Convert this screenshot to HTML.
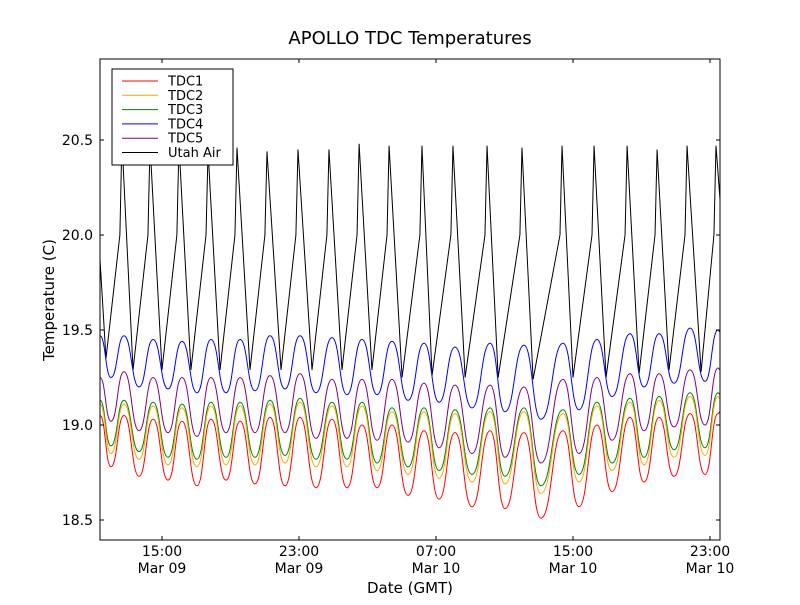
<!DOCTYPE html>
<html><head><meta charset="utf-8"><style>
body{margin:0;background:#fff;}
svg text{font-family:"DejaVu Sans","Liberation Sans",sans-serif;}
</style></head><body>
<svg id="chart" width="800" height="600" viewBox="0 0 800 600" xmlns="http://www.w3.org/2000/svg">
<rect x="0" y="0" width="800" height="600" fill="#fff"/>
<text x="410" y="44" font-size="18" text-anchor="middle">APOLLO TDC Temperatures</text>
<text x="410" y="593" font-size="15" text-anchor="middle">Date (GMT)</text>
<text transform="translate(54,300) rotate(-90)" font-size="15" text-anchor="middle">Temperature (C)</text>
<g id="plot"></g>
<g id="axes"></g>
<g id="legend"></g>
</svg>
<script>
const xTickHours=[15,23,31,39,47];
const xTickTimes=["15:00","23:00","07:00","15:00","23:00"];
const xTickDates=["Mar 09","Mar 09","Mar 10","Mar 10","Mar 10"];
const yTicks=[18.5,19.0,19.5,20.0,20.5];
const startHour=11.38, endHour=47.59;
const tdcTroughTimes=[12.02,13.66,15.35,17.04,18.74,20.43,22.18,23.99,25.80,27.56,29.37,31.18,33.10,35.03,37.13,39.35,41.28,43.15,44.90,46.71];
const tdcPeakTimes=[12.78,14.48,16.17,17.86,19.56,21.31,23.06,24.93,26.68,28.43,30.30,32.11,34.16,36.14,38.42,40.40,42.33,44.03,45.84,47.47];
const tdc1Peaks=[19.05,19.03,19.02,19.03,19.02,19.04,19.04,19.03,19.00,19.00,18.97,18.96,18.97,18.96,18.97,19.00,19.04,19.04,19.06,19.06];
const tdc1Troughs=[18.78,18.73,18.71,18.68,18.71,18.69,18.68,18.67,18.67,18.67,18.63,18.61,18.57,18.56,18.51,18.57,18.65,18.70,18.73,18.74];
const tdc1Ends=[19.05,19.07];
const tdc2Peaks=[19.11,19.10,19.09,19.10,19.10,19.11,19.12,19.10,19.10,19.07,19.07,19.06,19.07,19.07,19.06,19.10,19.12,19.13,19.15,19.15];
const tdc2Troughs=[18.85,18.82,18.79,18.78,18.79,18.79,18.80,18.78,18.78,18.76,18.74,18.72,18.70,18.69,18.64,18.70,18.76,18.79,18.83,18.84];
const tdc2Ends=[19.11,19.14];
const tdc3Peaks=[19.13,19.12,19.11,19.12,19.12,19.13,19.14,19.12,19.12,19.09,19.09,19.08,19.09,19.09,19.08,19.12,19.14,19.15,19.17,19.17];
const tdc3Troughs=[18.89,18.86,18.83,18.82,18.83,18.83,18.84,18.82,18.82,18.80,18.78,18.76,18.74,18.73,18.68,18.74,18.80,18.83,18.87,18.88];
const tdc3Ends=[19.13,19.16];
const tdc4Peaks=[19.47,19.45,19.44,19.45,19.45,19.47,19.47,19.46,19.45,19.44,19.43,19.41,19.43,19.42,19.43,19.45,19.48,19.48,19.51,19.50];
const tdc4Troughs=[19.25,19.20,19.19,19.17,19.17,19.18,19.19,19.17,19.16,19.16,19.13,19.12,19.09,19.07,19.03,19.08,19.15,19.20,19.22,19.23];
const tdc4Ends=[19.47,19.49];
const tdc5Peaks=[19.28,19.25,19.25,19.25,19.25,19.26,19.27,19.24,19.24,19.24,19.22,19.21,19.21,19.20,19.24,19.25,19.27,19.27,19.29,19.30];
const tdc5Troughs=[19.02,18.97,18.96,18.94,18.96,18.96,18.96,18.93,18.93,18.92,18.91,18.88,18.85,18.83,18.80,18.85,18.92,18.97,18.99,19.00];
const tdc5Ends=[19.25,19.29];
const airTroughTimes=[11.73,13.31,15.00,16.69,18.39,20.14,21.95,23.76,25.51,27.26,29.02,30.77,32.70,34.63,36.67,39.00,40.93,42.86,44.61,46.48];
const airPeakTimes=[12.66,14.30,15.99,17.69,19.38,21.13,22.94,24.75,26.51,28.26,30.18,31.99,33.98,36.02,38.36,40.23,42.16,43.91,45.66,47.35];
const airPeaks=[20.50,20.48,20.48,20.44,20.46,20.44,20.45,20.45,20.48,20.47,20.47,20.47,20.47,20.46,20.47,20.47,20.47,20.45,20.47,20.47];
const airTroughs=[19.35,19.29,19.29,19.29,19.29,19.29,19.29,19.29,19.29,19.29,19.25,19.26,19.25,19.25,19.24,19.25,19.25,19.27,19.29,19.28];
const airKinkValue=20.0;
const airEnds=[19.87,20.18];

const L=100,R=720,T=59,B=540;
function xS(h){return L+(h-startHour)/8*137;}
function yS(v){return 520-(v-18.5)*190;}
const NS="http://www.w3.org/2000/svg";
function mk(tag,attrs,parent){const e=document.createElementNS(NS,tag);for(const k in attrs)e.setAttribute(k,attrs[k]);parent.appendChild(e);return e;}
const plot=document.getElementById('plot'), axes=document.getElementById('axes'), legend=document.getElementById('legend');
const defs=mk('defs',{},plot);
const cp=mk('clipPath',{id:'clip'},defs);
mk('rect',{x:L,y:T,width:R-L,height:B-T},cp);

function tdcPath(peaks,troughs,ends){
  const pts=[[startHour,ends[0]]];
  for(let i=0;i<tdcTroughTimes.length;i++){pts.push([tdcTroughTimes[i],troughs[i]]);pts.push([tdcPeakTimes[i],peaks[i]]);}
  pts.push([endHour,ends[1]]);
  let d='M'+xS(pts[0][0]).toFixed(2)+','+yS(pts[0][1]).toFixed(2);
  for(let i=1;i<pts.length;i++){
    const x0=xS(pts[i-1][0]),y0=yS(pts[i-1][1]),x1=xS(pts[i][0]),y1=yS(pts[i][1]);const m=(x0+x1)/2;
    d+=' C'+m.toFixed(2)+','+y0.toFixed(2)+' '+m.toFixed(2)+','+y1.toFixed(2)+' '+x1.toFixed(2)+','+y1.toFixed(2);
  }
  return d;
}
const series=[
 {name:'TDC1',color:'#ff0000',p:tdc1Peaks,t:tdc1Troughs,e:tdc1Ends,key:'tdc1-line'},
 {name:'TDC2',color:'#ffa500',p:tdc2Peaks,t:tdc2Troughs,e:tdc2Ends,key:'tdc2-line'},
 {name:'TDC3',color:'#008000',p:tdc3Peaks,t:tdc3Troughs,e:tdc3Ends,key:'tdc3-line'},
 {name:'TDC4',color:'#0000ff',p:tdc4Peaks,t:tdc4Troughs,e:tdc4Ends,key:'tdc4-line'},
 {name:'TDC5',color:'#800080',p:tdc5Peaks,t:tdc5Troughs,e:tdc5Ends,key:'tdc5-line'}
];
const g=mk('g',{'clip-path':'url(#clip)'},plot);
let ap=[[startHour,airEnds[0]]];
for(let i=0;i<airTroughTimes.length;i++){ap.push([airTroughTimes[i],airTroughs[i]]);ap.push([airPeakTimes[i]-0.12,airKinkValue]);ap.push([airPeakTimes[i],airPeaks[i]]);}
ap.push([endHour,airEnds[1]]);
const air=mk('polyline',{points:ap.map(p=>xS(p[0]).toFixed(2)+','+yS(p[1]).toFixed(2)).join(' '),fill:'none',stroke:'#000','stroke-width':1},g);


for(const s of series.slice().reverse()){
  const p=mk('path',{d:tdcPath(s.p,s.t,s.e),fill:'none',stroke:s.color,'stroke-width':1},g);
  
  
}
mk('rect',{x:L,y:T,width:R-L,height:B-T,fill:'none',stroke:'#000','stroke-width':1},axes);
yTicks.forEach(v=>{const y=yS(v);
  mk('line',{x1:L,x2:L+4,y1:y,y2:y,stroke:'#000'},axes);mk('line',{x1:R-4,x2:R,y1:y,y2:y,stroke:'#000'},axes);
  const t=mk('text',{x:L-7,y:y+5,'font-size':14,'text-anchor':'end'},axes);t.textContent=v.toFixed(1);
  
  
});
xTickHours.forEach((h,i)=>{const x=xS(h);
  mk('line',{x1:x,x2:x,y1:B,y2:B-4,stroke:'#000'},axes);mk('line',{x1:x,x2:x,y1:T,y2:T+4,stroke:'#000'},axes);
  const t=mk('text',{x:x,y:556,'font-size':14,'text-anchor':'middle'},axes);t.textContent=xTickTimes[i];
  
  
  const t2=mk('text',{x:x,y:573,'font-size':14,'text-anchor':'middle'},axes);t2.textContent=xTickDates[i];
  
  
});
mk('rect',{x:112,y:69,width:121,height:96,fill:'#fff',stroke:'#000','stroke-width':1},legend);
const entries=series.map(s=>[s.name,s.color]).concat([['Utah Air','#000']]);
entries.forEach((en,i)=>{const y=81+i*14.3;
  const le=mk('g',{},legend);
  
  
  mk('line',{x1:122,x2:158,y1:y,y2:y,stroke:en[1],'stroke-width':1},le);
  const t=mk('text',{x:168,y:y+4.5,'font-size':13},le);t.textContent=en[0];
});
</script>
</body></html>
